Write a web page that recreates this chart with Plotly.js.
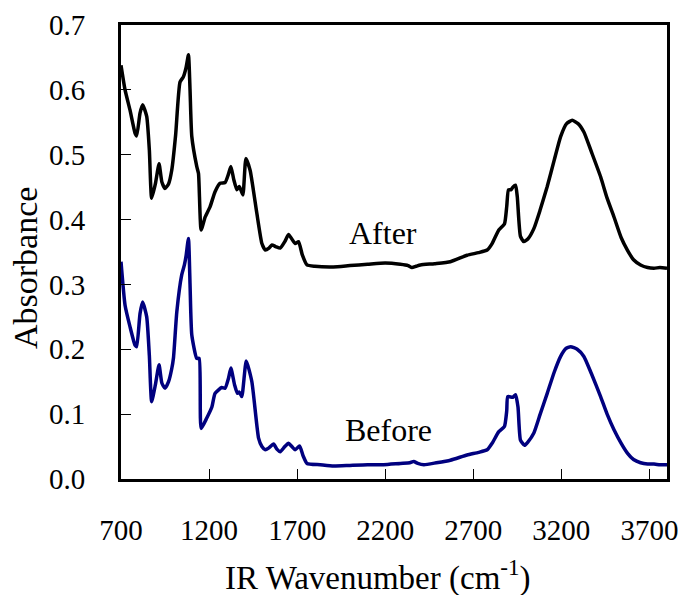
<!DOCTYPE html>
<html>
<head>
<meta charset="utf-8">
<script src="https://cdn.plot.ly/plotly-3.0.1.min.js"></script>
<style>html,body{margin:0;padding:0;background:#fff;}#chart{width:678px;height:595px;}</style>
</head>
<body>
<div id="chart"></div>
<script>
const afterWavenumber = [700,723,751,780,789,808,823,846,861,874,895,916,932,950,970,988,1010,1035,1054,1070,1083,1092,1102,1130,1140,1155,1178,1206,1234,1263,1291,1310,1324,1340,1358,1372,1392,1409,1433,1471,1500,1519,1540,1557,1580,1604,1630,1651,1670,1689,1708,1730,1756,1800,1905,2000,2100,2200,2286,2330,2352,2375,2400,2480,2570,2665,2730,2779,2807,2845,2877,2890,2900,2915,2925,2940,2950,2968,2987,3010,3044,3080,3120,3160,3196,3230,3262,3295,3328,3370,3423,3460,3499,3540,3575,3610,3650,3690,3726,3760,3800];
const afterAbsorbance = [0.638,0.600,0.569,0.533,0.529,0.564,0.577,0.559,0.507,0.433,0.455,0.486,0.458,0.448,0.455,0.476,0.530,0.612,0.620,0.635,0.654,0.600,0.528,0.482,0.471,0.384,0.404,0.420,0.443,0.456,0.457,0.470,0.482,0.462,0.446,0.451,0.438,0.494,0.476,0.410,0.363,0.353,0.356,0.361,0.358,0.356,0.366,0.377,0.370,0.363,0.366,0.345,0.330,0.328,0.327,0.329,0.331,0.333,0.331,0.329,0.326,0.328,0.330,0.332,0.335,0.345,0.349,0.353,0.363,0.384,0.393,0.420,0.446,0.446,0.450,0.453,0.435,0.374,0.366,0.370,0.386,0.415,0.451,0.492,0.528,0.548,0.553,0.548,0.535,0.505,0.466,0.433,0.404,0.372,0.353,0.338,0.330,0.326,0.325,0.326,0.325];

const beforeWavenumber = [700,723,751,780,789,808,823,846,861,874,895,916,932,950,970,988,998,1017,1045,1060,1070,1083,1092,1102,1130,1144,1155,1187,1216,1234,1272,1291,1310,1324,1345,1361,1372,1386,1411,1443,1481,1500,1519,1540,1566,1585,1604,1630,1651,1670,1689,1714,1735,1756,1831,1907,2000,2100,2191,2286,2340,2362,2385,2420,2490,2570,2665,2730,2779,2807,2845,2877,2890,2896,2925,2940,2954,2968,2991,3010,3044,3080,3120,3160,3196,3225,3253,3290,3328,3370,3423,3460,3499,3540,3575,3610,3650,3690,3726,3760,3800];
const beforeAbsorbance = [0.335,0.268,0.235,0.206,0.204,0.255,0.273,0.250,0.190,0.119,0.145,0.176,0.148,0.140,0.150,0.170,0.187,0.258,0.315,0.330,0.345,0.371,0.300,0.222,0.186,0.186,0.078,0.094,0.111,0.132,0.141,0.140,0.155,0.171,0.145,0.132,0.134,0.127,0.182,0.150,0.063,0.050,0.045,0.048,0.054,0.046,0.042,0.050,0.055,0.050,0.045,0.051,0.035,0.024,0.022,0.020,0.021,0.022,0.022,0.024,0.025,0.027,0.024,0.022,0.025,0.029,0.037,0.041,0.045,0.055,0.073,0.081,0.105,0.127,0.126,0.130,0.111,0.060,0.052,0.057,0.071,0.100,0.132,0.165,0.189,0.201,0.204,0.200,0.189,0.163,0.127,0.100,0.076,0.055,0.040,0.030,0.025,0.023,0.023,0.022,0.022];

const seriesNames = ["After", "Before"];
const xTickValues = [700,1200,1700,2200,2700,3200,3700];
const yTickValues = [0.0,0.1,0.2,0.3,0.4,0.5,0.6,0.7];
const xTitle = "IR Wavenumber (cm<sup>-1</sup>)";
const yTitle = "Absorbance";

const FONT = "'Liberation Serif', 'Times New Roman', serif";

const traces = [
  {x: afterWavenumber, y: afterAbsorbance, name: seriesNames[0], mode: 'lines',
   line: {color: '#000000', width: 3.5, shape: 'spline', smoothing: 0.5}},
  {x: beforeWavenumber, y: beforeAbsorbance, name: seriesNames[1], mode: 'lines',
   line: {color: '#00007f', width: 3.5, shape: 'spline', smoothing: 0.5}}
];

const layout = {
  width: 678, height: 595,
  margin: {l: 121, r: 11, t: 25, b: 116},
  paper_bgcolor: '#ffffff', plot_bgcolor: '#ffffff',
  showlegend: false,
  font: {family: FONT, color: '#000000', size: 29},
  xaxis: {
    range: [700, 3800], tickvals: xTickValues, ticktext: xTickValues.map(String),
    ticks: 'inside', ticklen: 10, tickwidth: 1, tickcolor: '#000',
    showline: true, mirror: true, linewidth: 3, linecolor: '#000',
    showgrid: false, zeroline: false, automargin: false,
    tickfont: {family: FONT, size: 29, color: '#000'},
    ticklabelstandoff: 23, ticklabeloverflow: 'allow'
  },
  yaxis: {
    range: [0, 0.7], tickvals: yTickValues, ticktext: yTickValues.map(v => v.toFixed(1)),
    ticks: 'inside', ticklen: 10, tickwidth: 1, tickcolor: '#000',
    showline: true, mirror: true, linewidth: 3, linecolor: '#000',
    showgrid: false, zeroline: false, automargin: false,
    tickfont: {family: FONT, size: 29, color: '#000'},
    ticklabelstandoff: 27, ticklabeloverflow: 'allow'
  },
  annotations: [
    {text: seriesNames[0], x: 2190, y: 0.38, xref: 'x', yref: 'y', showarrow: false,
     font: {family: FONT, size: 32, color: '#000'}, xanchor: 'center', yanchor: 'middle'},
    {text: seriesNames[1], x: 2219, y: 0.076, xref: 'x', yref: 'y', showarrow: false,
     font: {family: FONT, size: 32, color: '#000'}, xanchor: 'center', yanchor: 'middle'},
    {text: xTitle, x: 378, y: 575, xref: 'paper', yref: 'paper', showarrow: false,
     font: {family: FONT, size: 33, color: '#000'}, xanchor: 'center', yanchor: 'middle'},
    {text: yTitle, x: 25, y: 268, xref: 'paper', yref: 'paper', showarrow: false, textangle: -90,
     font: {family: FONT, size: 34, color: '#000'}, xanchor: 'center', yanchor: 'middle'}
  ]
};

// convert pixel-based title positions into paper fractions
const pw = 678 - 121 - 11, ph = 595 - 25 - 116;
layout.annotations[2].x = (layout.annotations[2].x - 121) / pw;
layout.annotations[2].y = (595 - 116 - layout.annotations[2].y) / ph;
layout.annotations[3].x = (layout.annotations[3].x - 121) / pw;
layout.annotations[3].y = (595 - 116 - layout.annotations[3].y) / ph;

Plotly.newPlot('chart', traces, layout, {staticPlot: true, displayModeBar: false});
</script>
</body>
</html>
